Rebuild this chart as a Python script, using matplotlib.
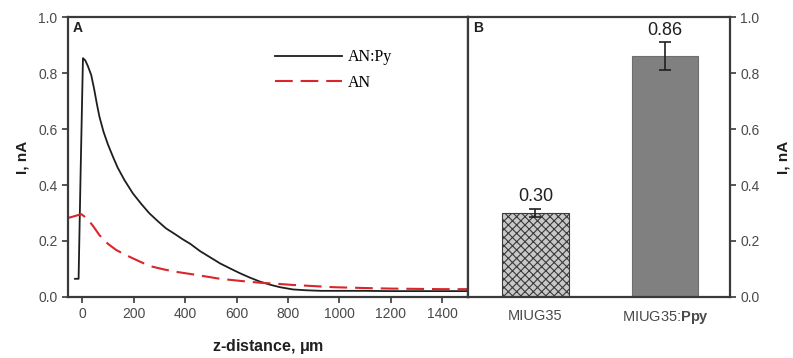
import numpy as np
import matplotlib.pyplot as plt

plt.rcParams['font.family'] = ['Liberation Sans', 'DejaVu Sans']
plt.rcParams['mathtext.fontset'] = 'custom'
plt.rcParams['mathtext.bf'] = 'Liberation Sans:bold'
plt.rcParams['mathtext.rm'] = 'Liberation Sans'
plt.rcParams['hatch.linewidth'] = 0.8
plt.rcParams['hatch.color'] = '#4a4a4a'

# approach curves, current vs tip-substrate distance
z_anpy = [-28, -14, -6, 3, 12, 22, 35, 46, 57, 67, 83, 100, 120, 138, 164, 197, 230, 261, 295, 326,
          360, 391, 420, 458, 497, 536, 575, 613, 650, 691, 730, 769, 819, 870, 930,
          1000, 1100, 1200, 1300, 1400, 1500]
i_anpy = [0.065, 0.065, 0.45, 0.853, 0.845, 0.825, 0.793, 0.745, 0.69, 0.644, 0.59, 0.545, 0.50,
          0.462, 0.418, 0.37, 0.332, 0.299, 0.27, 0.245, 0.225, 0.206, 0.19, 0.164, 0.142,
          0.12, 0.102, 0.085, 0.07, 0.055, 0.044, 0.035, 0.027, 0.024, 0.022, 0.022, 0.022,
          0.021, 0.021, 0.021, 0.021]
z_an = [-52, -25, -4, 20, 45, 67, 100, 132, 165, 197, 235, 274, 320, 365, 443, 536, 620, 691,
        760, 819, 900, 976, 1100, 1200, 1300, 1400, 1500]
i_an = [0.283, 0.29, 0.296, 0.28, 0.25, 0.221, 0.19, 0.168, 0.152, 0.138, 0.122, 0.108, 0.098,
        0.090, 0.079, 0.065, 0.057, 0.051, 0.047, 0.043, 0.039, 0.035, 0.032, 0.030, 0.029,
        0.028, 0.028]

# peak currents
samples = ['MIUG35', r'MIUG35:$\mathbf{Ppy}$']
peak = [0.30, 0.86]
peak_err = [0.015, 0.05]

spine_c = '#3a3a3a'
tick_c = '#4a4a4a'

fig = plt.figure(figsize=(7.93, 3.58), dpi=100)
axA = fig.add_axes([0.0858, 0.1704, 0.5044, 0.7821])
axB = fig.add_axes([0.5902, 0.1704, 0.3304, 0.7821])

for ax in (axA, axB):
    for s in ax.spines.values():
        s.set_color(spine_c)
        s.set_linewidth(1.6)
    ax.tick_params(direction='out', length=4, width=1.2, color=spine_c,
                   labelsize=10, labelcolor=tick_c)

# panel A
axA.plot(z_anpy, i_anpy, color='#1e1e1e', lw=1.3, label='AN:Py')
axA.plot(z_an, i_an, color='#d9262b', lw=1.5, dashes=(8.5, 3.8), label='AN')
axA.set_xlim(-55, 1500)
axA.set_ylim(0, 1.0)
axA.set_xticks(np.arange(0, 1401, 200))
axA.set_yticks(np.arange(0, 1.01, 0.2))
axA.yaxis.set_major_formatter(plt.FormatStrFormatter('%.1f'))
axA.set_xlabel(r'z-distance, $\mathbf{\mu}$m', fontsize=11.5, fontweight='bold', color='#202020', labelpad=11)
axA.set_ylabel('I, nA', fontsize=11, fontweight='bold', color='#202020', labelpad=6)
axA.text(0.012, 0.985, 'A', transform=axA.transAxes, ha='left', va='top',
         fontsize=10, fontweight='bold', color='#202020')
axA.legend(loc='upper left', bbox_to_anchor=(0.518, 0.885), frameon=False,
           prop={'family': 'Liberation Serif', 'size': 11.5}, handlelength=4.2,
           handletextpad=0.35, borderpad=0, borderaxespad=0, labelspacing=0.6)

# panel B
xb = np.arange(len(samples))
bars = axB.bar(xb, peak, width=0.51, yerr=peak_err, capsize=4,
               color=['#c8c8c8', '#808080'], edgecolor=['#3a3a3a', '#6e6e6e'], linewidth=0.8,
               error_kw={'ecolor': '#202020', 'elinewidth': 1.2, 'capthick': 1.2})
bars[0].set_hatch('xxxx')
for x, v, e in zip(xb, peak, peak_err):
    axB.text(x, v + e + 0.012, f'{v:.2f}', ha='center', va='bottom', fontsize=13, color='#202020')
axB.set_xlim(-0.52, 1.5)
axB.set_ylim(0, 1.0)
axB.set_xticks(xb)
axB.set_xticklabels(samples, fontsize=10.5)
axB.tick_params(axis='x', length=0, pad=9)
axB.yaxis.tick_right()
axB.yaxis.set_label_position('right')
axB.set_yticks(np.arange(0, 1.01, 0.2))
axB.yaxis.set_major_formatter(plt.FormatStrFormatter('%.1f'))
axB.set_ylabel('I, nA', fontsize=11, fontweight='bold', color='#202020', labelpad=12, rotation=90)
axB.text(0.02, 0.985, 'B', transform=axB.transAxes, ha='left', va='top',
         fontsize=10, fontweight='bold', color='#202020')

fig.savefig('out.png', dpi=100)
